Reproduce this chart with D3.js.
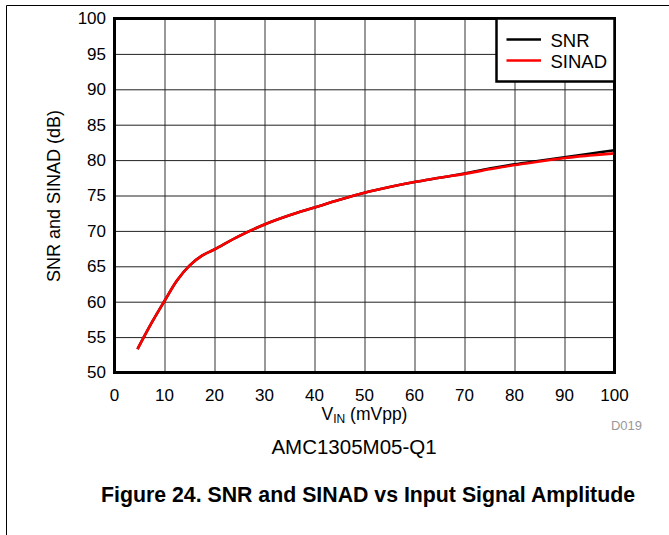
<!DOCTYPE html>
<html>
<head>
<meta charset="utf-8">
<script src="https://cdn.jsdelivr.net/npm/d3@7"></script>
<style>
  html, body { margin: 0; padding: 0; background: #fff; }
  svg { display: block; font-family: "Liberation Sans", Arial, sans-serif; }
</style>
</head>
<body>
<svg id="chart" width="669" height="535"></svg>
<script>
// ---- data ----
const vin = [4.6, 7.5, 10, 12.5, 15, 17.5, 20, 25, 30, 35, 40, 45, 50, 55, 60, 65, 70, 75, 80, 85, 90, 95, 100];
const snr = [53.3, 57.1, 60.1, 63.0, 65.1, 66.5, 67.4, 69.3, 70.9, 72.2, 73.3, 74.4, 75.4, 76.2, 76.9, 77.5, 78.1, 78.8, 79.4, 79.9, 80.4, 80.9, 81.4];
const sinad = [53.3, 57.1, 60.1, 63.0, 65.1, 66.5, 67.4, 69.3, 70.9, 72.2, 73.3, 74.4, 75.4, 76.2, 76.9, 77.5, 78.05, 78.7, 79.3, 79.8, 80.3, 80.65, 80.95];
const xTicks = [0, 10, 20, 30, 40, 50, 60, 70, 80, 90, 100];
const yTicks = [50, 55, 60, 65, 70, 75, 80, 85, 90, 95, 100];
const seriesNames = ["SNR", "SINAD"];
const seriesColors = ["#000000", "#ff0000"];

const svg = d3.select("#chart");
const L = 114.5, R = 614.5, T = 18.5, B = 372.5;
const x = d3.scaleLinear().domain([0, 100]).range([L, R]);
const y = d3.scaleLinear().domain([50, 100]).range([B, T]);

// outer page frame
svg.append("path").attr("d", "M6.5,535 L6.5,5.5 L669,5.5")
  .attr("fill", "none").attr("stroke", "#000").attr("stroke-width", 1);

// grid
const g = svg.append("g");
g.append("g").attr("transform", `translate(0,${B})`)
  .call(d3.axisBottom(x).tickValues(xTicks).tickSize(-(B - T)).tickFormat(""))
  .call(a => a.select(".domain").remove())
  .call(a => a.selectAll("line").attr("stroke", "#555").attr("stroke-width", 1.2));
g.append("g").attr("transform", `translate(${L},0)`)
  .call(d3.axisLeft(y).tickValues(yTicks).tickSize(-(R - L)).tickFormat(""))
  .call(a => a.select(".domain").remove())
  .call(a => a.selectAll("line").attr("stroke", "#222").attr("stroke-width", 1));

// tick labels
svg.append("g").selectAll("text").data(yTicks).join("text")
  .attr("x", 106).attr("y", d => y(d)).attr("dy", "0.35em")
  .attr("text-anchor", "end").attr("font-size", 17).attr("fill", "#000")
  .text(d => d);
svg.append("g").selectAll("text").data(xTicks).join("text")
  .attr("x", d => x(d)).attr("y", 400.5)
  .attr("text-anchor", "middle").attr("font-size", 17).attr("fill", "#000")
  .text(d => d);

// lines
const line = d3.line().x(d => x(d[0])).y(d => y(d[1])).curve(d3.curveCatmullRom.alpha(0.5));
[snr, sinad].forEach((s, i) => {
  svg.append("path").datum(vin.map((v, j) => [v, s[j]]))
    .attr("d", line).attr("fill", "none")
    .attr("stroke", seriesColors[i]).attr("stroke-width", 2.6)
    .attr("stroke-linejoin", "round");
});

// plot frame
svg.append("rect").attr("x", L).attr("y", T).attr("width", R - L).attr("height", B - T)
  .attr("fill", "none").attr("stroke", "#000").attr("stroke-width", 3);

// legend
const lg = svg.append("g");
lg.append("rect").attr("x", 496.5).attr("y", T).attr("width", R - 496.5).attr("height", 81.5 - T)
  .attr("fill", "#fff").attr("stroke", "#000").attr("stroke-width", 2.5);
seriesNames.forEach((n, i) => {
  const yy = 39.5 + i * 21;
  lg.append("line").attr("x1", 506.5).attr("x2", 541).attr("y1", yy).attr("y2", yy)
    .attr("stroke", seriesColors[i]).attr("stroke-width", 2.6);
  lg.append("text").attr("x", 550.5).attr("y", 46.5 + i * 21)
    .attr("font-size", 18.5).attr("fill", "#000").text(n);
});

// axis titles
svg.append("text").attr("transform", "translate(60,196) rotate(-90)")
  .attr("text-anchor", "middle").attr("font-size", 18).text("SNR and SINAD (dB)");
const xt = svg.append("text").attr("x", 364.5).attr("y", 420)
  .attr("text-anchor", "middle").attr("font-size", 17.5);
xt.append("tspan").text("V");
xt.append("tspan").attr("font-size", 12).attr("dy", 3).text("IN");
xt.append("tspan").attr("dy", -3).text(" (mVpp)");

svg.append("text").attr("x", 642).attr("y", 429.5).attr("text-anchor", "end")
  .attr("font-size", 13).attr("fill", "#999").text("D019");

svg.append("text").attr("x", 354).attr("y", 453.5).attr("text-anchor", "middle")
  .attr("font-size", 20.5).text("AMC1305M05-Q1");

svg.append("text").attr("x", 368).attr("y", 501.5).attr("text-anchor", "middle")
  .attr("font-size", 21.3).attr("font-weight", "bold")
  .text("Figure 24. SNR and SINAD vs Input Signal Amplitude");
</script>
</body>
</html>
